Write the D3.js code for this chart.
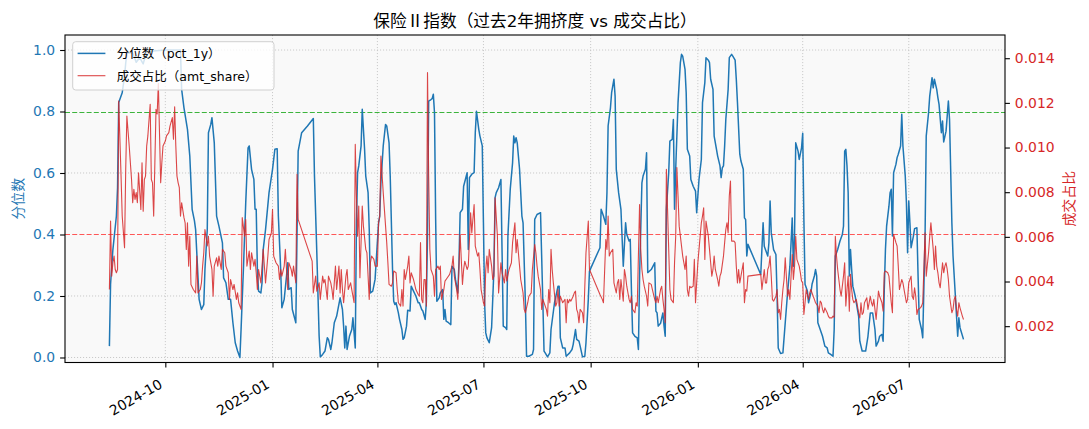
<!DOCTYPE html>
<html><head><meta charset="utf-8">
<script src="https://cdn.jsdelivr.net/npm/d3@7/dist/d3.min.js"></script>
<style>
html,body{margin:0;padding:0;background:#fff;}
svg text{font-family:"DejaVu Sans","Noto Sans CJK SC",sans-serif;}
</style></head><body>
<svg id="chart" width="1089" height="429"></svg>
<script>
const titleText = "保险Ⅱ指数（过去2年拥挤度 vs 成交占比）";
const leftLabel = "分位数";
const rightLabel = "成交占比";
const legendLabels = ["分位数（pct_1y）", "成交占比（amt_share）"];
const baseDate = "2024-08-14";
const xTickLabels = ["2024-10","2025-01","2025-04","2025-07","2025-10","2026-01","2026-04","2026-07"];
const pctTicks = [0, 0.2, 0.4, 0.6, 0.8, 1.0];
const shareTicks = [0.002, 0.004, 0.006, 0.008, 0.010, 0.012, 0.014];
const thresholdHigh = 0.8;
const thresholdLow = 0.4;

// [days since baseDate, pct_1y]
const pctSeries = [[0,0.037],[1,0.238],[3,0.351],[6,0.46],[7,0.552],[8,0.829],[11,0.861],[13,0.915],[14,0.957],[15,0.99],[20,0.99],[23,0.96],[26,0.975],[29,0.955],[32,0.995],[48,1.0],[61,1.0],[62,0.872],[64,0.812],[67,0.742],[69,0.655],[71,0.482],[73,0.444],[74,0.416],[76,0.265],[77,0.189],[79,0.156],[81,0.172],[82,0.286],[84,0.416],[85,0.731],[87,0.758],[88,0.78],[90,0.698],[92,0.46],[94,0.427],[97,0.373],[98,0.259],[100,0.243],[102,0.189],[104,0.189],[106,0.113],[108,0.048],[110,0.021],[112,0.0],[113,0.091],[115,0.286],[117,0.503],[119,0.682],[120,0.688],[122,0.612],[124,0.579],[125,0.482],[126,0.482],[127,0.286],[128,0.216],[130,0.21],[131,0.243],[132,0.351],[134,0.416],[137,0.536],[140,0.612],[142,0.677],[144,0.679],[145,0.46],[147,0.286],[148,0.162],[150,0.189],[152,0.265],[153,0.308],[154,0.221],[156,0.227],[157,0.156],[160,0.113],[161,0.395],[162,0.671],[165,0.731],[170,0.753],[175,0.777],[176,0.59],[178,0.341],[180,0.069],[181,0.002],[183,0.01],[185,0.021],[187,0.064],[188,0.059],[190,0.026],[191,0.048],[193,0.113],[195,0.134],[198,0.194],[200,0.156],[201,0.102],[202,0.031],[203,0.102],[204,0.026],[206,0.069],[208,0.091],[209,0.129],[211,0.031],[212,0.438],[213,0.601],[214,0.623],[216,0.688],[217,0.807],[219,0.677],[220,0.59],[222,0.536],[223,0.416],[224,0.21],[226,0.216],[228,0.254],[231,0.438],[232,0.46],[233,0.568],[235,0.688],[237,0.758],[238,0.753],[240,0.698],[241,0.59],[243,0.286],[244,0.183],[245,0.172],[246,0.178],[248,0.145],[249,0.124],[251,0.091],[252,0.059],[253,0.064],[255,0.102],[256,0.154],[258,0.151],[259,0.232],[261,0.216],[263,0.2],[265,0.178],[266,0.178],[268,0.156],[269,0.151],[271,0.124],[272,0.178],[273,0.395],[274,0.834],[276,0.839],[277,0.842],[278,0.856],[279,0.796],[280,0.449],[281,0.183],[283,0.194],[284,0.21],[286,0.221],[287,0.124],[288,0.156],[289,0.118],[291,0.113],[293,0.107],[294,0.297],[296,0.286],[297,0.254],[299,0.21],[300,0.308],[301,0.471],[303,0.482],[304,0.557],[307,0.601],[308,0.351],[309,0.585],[311,0.596],[313,0.601],[314,0.731],[315,0.801],[317,0.742],[318,0.72],[320,0.688],[321,0.438],[322,0.178],[323,0.08],[324,0.064],[326,0.048],[328,0.097],[330,0.286],[331,0.52],[332,0.536],[334,0.552],[336,0.579],[337,0.341],[338,0.102],[340,0.097],[341,0.091],[342,0.395],[344,0.547],[346,0.633],[347,0.72],[348,0.698],[349,0.715],[350,0.698],[352,0.612],[354,0.46],[355,0.438],[357,0.178],[358,0.004],[360,0.004],[363,0.01],[364,0.026],[365,0.449],[367,0.465],[370,0.471],[372,0.178],[373,0.021],[374,0.015],[376,0.002],[378,0.015],[379,0.091],[382,0.178],[385,0.232],[386,0.232],[387,0.064],[389,0.031],[391,0.031],[392,0.004],[395,0.015],[397,0.026],[398,0.042],[400,0.091],[401,0.059],[403,0.053],[404,0.037],[406,0.002],[408,0.004],[409,0.048],[411,0.189],[412,0.281],[421,0.357],[422,0.482],[424,0.46],[426,0.433],[427,0.536],[428,0.753],[430,0.812],[431,0.861],[433,0.905],[434,0.85],[435,0.612],[437,0.536],[439,0.482],[441,0.297],[443,0.438],[444,0.4],[446,0.379],[447,0.384],[448,0.221],[449,0.08],[451,0.069],[453,0.064],[454,0.026],[455,0.265],[457,0.568],[458,0.59],[460,0.612],[461,0.666],[462,0.276],[465,0.286],[468,0.308],[469,0.151],[470,0.145],[471,0.102],[473,0.111],[475,0.145],[476,0.102],[477,0.069],[478,0.482],[480,0.601],[481,0.704],[483,0.709],[484,0.774],[485,0.482],[486,0.612],[488,0.829],[490,0.959],[491,0.986],[492,0.98],[494,0.937],[495,0.861],[496,0.677],[498,0.655],[499,0.579],[501,0.557],[503,0.541],[504,0.471],[505,0.525],[506,0.579],[508,0.644],[509,0.829],[511,0.894],[512,0.975],[514,0.967],[515,0.959],[516,0.905],[518,0.872],[519,0.72],[521,0.677],[522,0.655],[524,0.623],[525,0.585],[526,0.617],[527,0.623],[528,0.688],[529,0.774],[531,0.872],[532,0.975],[534,0.986],[535,0.98],[537,0.967],[538,0.905],[539,0.829],[541,0.661],[542,0.639],[544,0.612],[545,0.454],[546,0.449],[547,0.33],[548,0.368],[559,0.27],[561,0.438],[562,0.362],[564,0.341],[565,0.33],[566,0.373],[567,0.509],[568,0.406],[570,0.351],[572,0.335],[573,0.2],[574,0.031],[576,0.013],[578,0.015],[580,0.113],[582,0.21],[584,0.297],[585,0.373],[586,0.454],[587,0.297],[588,0.395],[589,0.698],[591,0.671],[592,0.644],[594,0.682],[595,0.729],[596,0.449],[597,0.238],[599,0.216],[600,0.178],[602,0.21],[603,0.238],[605,0.265],[606,0.286],[607,0.265],[608,0.113],[610,0.091],[612,0.069],[614,0.037],[616,0.031],[617,0.015],[619,0.01],[621,0.004],[622,0.091],[623,0.33],[625,0.351],[627,0.379],[629,0.4],[630,0.427],[631,0.671],[632,0.677],[633,0.623],[634,0.536],[635,0.265],[636,0.351],[637,0.286],[638,0.232],[640,0.2],[641,0.178],[642,0.156],[643,0.134],[644,0.053],[646,0.021],[649,0.021],[651,0.069],[653,0.145],[655,0.145],[657,0.091],[658,0.037],[660,0.053],[661,0.069],[663,0.075],[664,0.053],[665,0.221],[666,0.351],[667,0.427],[669,0.492],[670,0.536],[671,0.547],[672,0.395],[673,0.601],[675,0.628],[676,0.65],[677,0.661],[679,0.688],[680,0.791],[681,0.688],[683,0.59],[684,0.503],[685,0.341],[686,0.509],[687,0.438],[688,0.357],[690,0.395],[691,0.419],[693,0.422],[694,0.265],[695,0.124],[697,0.091],[698,0.064],[700,0.395],[701,0.72],[703,0.796],[704,0.85],[706,0.91],[707,0.877],[708,0.905],[710,0.872],[711,0.845],[712,0.823],[714,0.731],[715,0.769],[716,0.701],[718,0.736],[719,0.785],[720,0.834],[721,0.774],[723,0.438],[724,0.33],[726,0.2],[728,0.069],[729,0.129],[730,0.097],[733,0.059]];

// [days since baseDate, amt_share]
const shareSeries = [[0,0.00364],[1,0.00671],[2,0.00424],[3,0.00484],[4,0.00514],[5,0.00454],[6,0.00439],[7,0.00454],[8,0.01208],[10,0.00872],[11,0.00693],[13,0.00551],[14,0.00902],[15,0.01141],[17,0.01007],[19,0.00857],[20,0.00753],[21,0.00813],[22,0.00768],[23,0.00798],[24,0.00753],[25,0.00887],[27,0.00723],[28,0.00932],[29,0.00715],[30,0.00857],[31,0.00872],[32,0.01007],[33,0.01052],[35,0.01194],[36,0.00857],[37,0.00842],[38,0.00693],[39,0.00925],[40,0.01171],[41,0.0115],[42,0.01288],[44,0.00842],[45,0.00932],[46,0.01007],[48,0.01029],[49,0.01052],[51,0.01067],[52,0.01096],[54,0.01134],[55,0.01037],[56,0.01183],[57,0.01007],[58,0.00872],[59,0.00842],[60,0.0082],[61,0.00693],[62,0.00753],[64,0.00686],[65,0.00663],[66,0.00544],[67,0.00663],[68,0.00469],[69,0.00603],[70,0.00387],[72,0.00364],[74,0.00349],[75,0.00514],[76,0.00349],[78,0.00364],[79,0.00394],[80,0.00469],[81,0.00529],[82,0.00633],[84,0.00559],[85,0.00603],[86,0.00514],[88,0.00454],[89,0.00334],[90,0.00469],[92,0.00506],[93,0.00469],[94,0.00514],[96,0.00454],[97,0.00544],[99,0.00529],[100,0.00469],[102,0.00439],[103,0.0032],[104,0.00409],[106,0.00364],[107,0.00387],[109,0.0032],[110,0.00349],[111,0.00305],[113,0.00275],[114,0.00686],[116,0.00603],[117,0.00678],[118,0.00469],[120,0.00536],[121,0.00454],[122,0.00529],[124,0.00469],[125,0.00499],[126,0.00439],[127,0.00364],[128,0.00454],[129,0.00424],[130,0.00394],[132,0.00544],[133,0.00469],[134,0.00394],[135,0.00454],[136,0.00514],[137,0.00588],[139,0.00618],[140,0.00723],[141,0.00514],[143,0.00484],[145,0.00469],[146,0.00409],[147,0.00454],[148,0.00424],[150,0.00469],[151,0.00544],[152,0.00454],[153,0.00364],[154,0.00484],[156,0.00454],[157,0.00424],[158,0.00469],[160,0.00394],[161,0.0088],[162,0.00678],[174,0.00491],[175,0.00349],[177,0.00424],[178,0.00357],[180,0.00394],[181,0.0032],[183,0.00424],[184,0.00394],[185,0.00409],[187,0.0032],[188,0.00424],[190,0.00394],[191,0.00364],[192,0.0032],[194,0.00469],[195,0.00364],[197,0.00469],[198,0.00349],[199,0.00454],[200,0.00364],[201,0.00305],[203,0.00424],[204,0.00454],[205,0.00364],[207,0.00394],[208,0.00364],[210,0.00305],[211,0.01014],[212,0.00783],[213,0.00603],[214,0.00738],[215,0.00417],[217,0.00738],[218,0.00648],[220,0.00544],[221,0.00529],[223,0.0032],[224,0.00484],[225,0.00514],[227,0.00499],[228,0.00469],[230,0.00469],[231,0.00663],[232,0.00693],[233,0.00962],[235,0.00798],[236,0.00723],[238,0.00574],[239,0.00484],[240,0.00387],[242,0.00379],[243,0.00394],[244,0.00447],[246,0.00439],[247,0.00364],[248,0.00305],[250,0.0029],[251,0.00364],[252,0.0029],[253,0.00454],[254,0.00409],[256,0.00469],[257,0.00514],[258,0.00394],[259,0.00439],[261,0.00409],[262,0.00387],[263,0.00364],[265,0.00342],[266,0.00334],[267,0.00574],[268,0.0032],[269,0.00305],[270,0.00409],[271,0.00409],[272,0.0029],[273,0.01336],[274,0.00872],[275,0.00544],[276,0.00454],[278,0.00424],[279,0.00334],[280,0.00454],[282,0.00469],[283,0.00454],[284,0.00469],[285,0.0032],[287,0.00364],[288,0.00402],[290,0.00417],[292,0.00432],[294,0.00469],[295,0.00514],[296,0.00424],[298,0.00364],[299,0.0032],[301,0.0061],[303,0.00387],[304,0.00454],[305,0.00491],[307,0.00454],[308,0.00469],[310,0.00708],[311,0.00618],[313,0.00745],[314,0.00559],[316,0.00514],[317,0.00529],[318,0.00454],[319,0.00364],[321,0.00305],[322,0.0029],[323,0.00454],[324,0.00514],[325,0.00439],[326,0.00544],[328,0.00469],[329,0.00409],[330,0.00424],[331,0.00775],[333,0.00603],[334,0.00349],[336,0.00484],[337,0.00439],[339,0.00394],[340,0.00454],[341,0.00402],[343,0.00454],[345,0.00484],[346,0.00574],[347,0.00618],[348,0.00663],[349,0.00529],[350,0.00588],[352,0.00469],[353,0.00409],[355,0.00349],[356,0.00275],[357,0.0026],[359,0.00305],[360,0.00334],[362,0.00349],[363,0.00454],[365,0.00566],[366,0.00529],[367,0.00469],[368,0.00424],[370,0.00364],[371,0.00275],[372,0.0032],[373,0.00305],[375,0.00275],[376,0.00245],[377,0.00364],[378,0.00305],[379,0.00544],[380,0.00454],[381,0.00394],[383,0.0029],[384,0.00305],[385,0.00364],[386,0.0029],[387,0.00334],[388,0.0032],[389,0.00305],[391,0.0032],[392,0.00215],[393,0.0032],[394,0.00305],[395,0.0032],[396,0.00312],[398,0.00334],[399,0.00349],[400,0.00357],[401,0.00275],[402,0.0026],[403,0.00215],[404,0.00275],[406,0.0026],[407,0.00215],[408,0.00379],[409,0.00529],[411,0.00671],[412,0.00454],[421,0.00342],[423,0.0032],[424,0.00305],[426,0.00588],[427,0.00544],[428,0.00693],[429,0.00514],[430,0.00529],[432,0.00544],[433,0.00394],[435,0.00349],[436,0.00394],[437,0.00409],[438,0.0032],[439,0.00409],[441,0.00312],[442,0.00454],[443,0.00424],[444,0.00379],[446,0.0032],[447,0.00305],[448,0.00334],[449,0.00275],[451,0.0026],[452,0.00305],[453,0.0029],[455,0.00745],[456,0.00544],[457,0.00454],[458,0.00409],[459,0.00379],[461,0.00334],[462,0.0029],[463,0.00394],[465,0.00387],[466,0.00364],[468,0.0032],[469,0.00305],[470,0.00334],[471,0.00305],[473,0.00364],[474,0.00379],[475,0.0032],[476,0.00275],[477,0.00215],[478,0.00902],[479,0.00723],[480,0.00544],[481,0.00364],[482,0.0032],[484,0.00305],[485,0.00484],[486,0.00603],[487,0.0091],[488,0.00783],[489,0.00648],[490,0.00603],[492,0.00514],[493,0.00484],[494,0.00454],[495,0.00514],[496,0.00364],[497,0.00334],[498,0.00379],[499,0.00372],[501,0.00379],[502,0.00499],[503,0.00305],[504,0.00394],[505,0.00484],[506,0.00544],[508,0.00663],[509,0.00693],[510,0.0073],[511,0.00499],[512,0.00671],[514,0.00603],[515,0.00544],[516,0.00484],[517,0.00424],[518,0.00454],[519,0.00514],[520,0.00454],[522,0.00409],[523,0.00379],[524,0.00424],[525,0.00439],[527,0.00514],[528,0.00574],[529,0.00633],[530,0.00663],[531,0.00618],[532,0.00783],[533,0.0085],[534,0.00581],[536,0.00581],[537,0.00574],[538,0.00469],[539,0.00394],[540,0.00454],[541,0.00394],[542,0.00424],[544,0.00484],[545,0.00305],[546,0.00364],[547,0.00357],[548,0.00424],[559,0.00432],[560,0.00364],[561,0.00409],[562,0.00454],[563,0.00394],[564,0.00394],[565,0.00454],[566,0.00469],[567,0.00514],[568,0.00424],[569,0.0032],[570,0.00312],[572,0.00334],[573,0.00364],[574,0.0026],[575,0.00275],[576,0.0023],[577,0.00305],[578,0.00364],[579,0.00409],[580,0.00506],[582,0.00334],[583,0.00364],[584,0.0032],[585,0.00424],[586,0.00521],[587,0.00409],[588,0.00469],[589,0.00603],[590,0.00499],[592,0.00469],[593,0.00439],[594,0.00402],[595,0.00394],[596,0.00252],[597,0.00305],[598,0.00364],[600,0.0032],[601,0.00349],[602,0.00364],[603,0.00349],[604,0.00334],[605,0.0032],[606,0.00305],[608,0.0029],[609,0.0026],[610,0.00312],[611,0.00305],[612,0.00275],[613,0.0026],[614,0.00282],[616,0.0026],[617,0.00245],[618,0.00237],[620,0.00237],[621,0.00245],[622,0.0024],[623,0.00603],[624,0.00514],[625,0.00454],[626,0.00409],[627,0.00364],[628,0.00334],[630,0.00424],[631,0.00484],[632,0.0029],[633,0.00364],[634,0.00424],[635,0.00267],[636,0.00432],[637,0.00364],[638,0.0032],[639,0.00305],[641,0.0032],[642,0.0029],[643,0.0026],[644,0.00237],[645,0.00305],[646,0.00252],[647,0.0026],[648,0.00305],[650,0.00327],[651,0.00275],[653,0.00334],[654,0.00305],[655,0.0029],[656,0.0032],[657,0.00275],[658,0.0023],[660,0.00357],[661,0.00334],[663,0.00305],[664,0.00267],[665,0.00439],[666,0.00447],[668,0.00439],[669,0.00424],[670,0.00364],[671,0.00305],[672,0.0026],[673,0.00611],[675,0.00574],[676,0.00559],[677,0.00469],[678,0.00364],[680,0.00409],[681,0.00394],[682,0.00364],[683,0.00334],[684,0.00305],[685,0.0032],[686,0.00394],[688,0.00424],[689,0.00334],[690,0.0032],[691,0.00372],[692,0.00334],[693,0.00252],[694,0.00275],[696,0.00282],[697,0.0029],[698,0.00305],[700,0.00618],[701,0.00424],[703,0.00529],[704,0.00603],[705,0.00663],[707,0.00544],[708,0.00454],[709,0.00559],[710,0.00469],[711,0.00439],[712,0.00394],[713,0.00372],[715,0.00484],[716,0.00439],[717,0.00469],[718,0.00484],[719,0.00454],[720,0.00409],[721,0.00334],[723,0.0026],[724,0.00275],[725,0.0032],[726,0.00334],[727,0.00275],[728,0.00245],[729,0.00305],[730,0.00282],[732,0.00245],[733,0.0023]];

const W = 1089, H = 429;
const m = {left: 65, right: 1005, top: 35, bottom: 362.5};
const BLUE = "#1f77b4", RED = "#d62728";
const FS = 13.9;

const base = d3.timeParse("%Y-%m-%d")(baseDate);
const dayToDate = d => new Date(base.getTime() + d * 864e5);

const x = d3.scaleTime().domain([dayToDate(-38.1), dayToDate(768.6)]).range([m.left, m.right]);
const yL = d3.scaleLinear().domain([-0.0163, 1.0488]).range([m.bottom, m.top]);
const yR = d3.scaleLinear().domain([0.000373, 0.01504]).range([m.bottom, m.top]);

const svg = d3.select("#chart");
svg.append("rect").attr("width", W).attr("height", H).attr("fill", "#fff");
svg.append("rect").attr("x", m.left).attr("y", m.top)
  .attr("width", m.right - m.left).attr("height", m.bottom - m.top).attr("fill", "#f9f9f9");

const tickDates = xTickLabels.map(s => d3.timeParse("%Y-%m")(s));

// grid
const grid = svg.append("g");
grid.selectAll("line.gx").data(tickDates).join("line").attr("class", "gx")
  .attr("x1", d => x(d)).attr("x2", d => x(d)).attr("y1", m.top).attr("y2", m.bottom);
grid.selectAll("line.gy").data(pctTicks.filter(v => v !== thresholdHigh && v !== thresholdLow)).join("line").attr("class", "gy")
  .attr("x1", m.left).attr("x2", m.right).attr("y1", d => yL(d)).attr("y2", d => yL(d));
grid.selectAll("line").attr("stroke", "#c4c4c4").attr("stroke-width", 0.9).attr("stroke-dasharray", "1.1,1.9");

// threshold lines
const snap = v => Math.round(v) + 0.5;
svg.append("line").attr("x1", m.left).attr("x2", m.right)
  .attr("y1", snap(yL(thresholdHigh))).attr("y2", snap(yL(thresholdHigh)))
  .attr("stroke", "#3cb43c").attr("stroke-width", 1.1).attr("stroke-dasharray", "5,2.2");
svg.append("line").attr("x1", m.left).attr("x2", m.right)
  .attr("y1", snap(yL(thresholdLow))).attr("y2", snap(yL(thresholdLow)))
  .attr("stroke", "#ff3b3b").attr("stroke-opacity", 0.85).attr("stroke-width", 1.1).attr("stroke-dasharray", "5,2.2");

// series
const linePct = d3.line().x(d => x(dayToDate(d[0]))).y(d => yL(d[1]));
const lineShare = d3.line().x(d => x(dayToDate(d[0]))).y(d => yR(d[1]));
svg.append("path").datum(pctSeries).attr("d", linePct)
  .attr("fill", "none").attr("stroke", BLUE).attr("stroke-width", 1.5).attr("stroke-linejoin", "round");
svg.append("path").datum(shareSeries).attr("d", lineShare)
  .attr("fill", "none").attr("stroke", RED).attr("stroke-opacity", 0.85).attr("stroke-width", 1.1).attr("stroke-linejoin", "round");

// frame
svg.append("rect").attr("x", m.left).attr("y", m.top)
  .attr("width", m.right - m.left).attr("height", m.bottom - m.top)
  .attr("fill", "none").attr("stroke", "#000").attr("stroke-width", 1.1);

// axes
const gx = svg.append("g").attr("transform", `translate(0,${m.bottom})`)
  .call(d3.axisBottom(x).tickValues(tickDates).tickFormat((d, i) => xTickLabels[i]).tickSize(4.9).tickSizeOuter(0));
gx.select(".domain").remove();
gx.selectAll(".tick line").attr("stroke", "#000").attr("stroke-width", 1.1);
gx.selectAll(".tick text").attr("x", 0).attr("y", 0).attr("dy", 0)
  .attr("text-anchor", "end").attr("transform", "translate(-2.5,24.5) rotate(-30)")
  .attr("font-size", FS).attr("fill", "#000");

const gl = svg.append("g").attr("transform", `translate(${m.left},0)`)
  .call(d3.axisLeft(yL).tickValues(pctTicks).tickFormat(d3.format(".1f")).tickSize(4.9).tickPadding(4.9).tickSizeOuter(0));
gl.select(".domain").remove();
gl.selectAll(".tick line").attr("stroke", "#000").attr("stroke-width", 1.1);
gl.selectAll(".tick text").attr("font-size", FS).attr("fill", BLUE);

const gr = svg.append("g").attr("transform", `translate(${m.right},0)`)
  .call(d3.axisRight(yR).tickValues(shareTicks).tickFormat(d3.format(".3f")).tickSize(4.9).tickPadding(4.9).tickSizeOuter(0));
gr.select(".domain").remove();
gr.selectAll(".tick line").attr("stroke", "#000").attr("stroke-width", 1.1);
gr.selectAll(".tick text").attr("font-size", FS).attr("fill", RED);

// title (roman numerals taken from the CJK font, as in the reference) & axis labels
const title = svg.append("text").attr("x", (m.left + m.right) / 2).attr("y", 26.7)
  .attr("text-anchor", "middle").attr("font-size", 16.7).attr("fill", "#000");
titleText.split(/([\u2160-\u217F]+)/).filter(s => s.length).forEach(part => {
  const ts = title.append("tspan").text(part);
  if (/[\u2160-\u217F]/.test(part)) ts.style("font-family", '"Noto Sans CJK SC", sans-serif');
});
svg.append("text").attr("transform", `translate(18,${(m.top + m.bottom) / 2}) rotate(-90)`)
  .attr("dy", "0.35em").attr("text-anchor", "middle").attr("font-size", FS).attr("fill", BLUE).text(leftLabel);
svg.append("text").attr("transform", `translate(1069,${(m.top + m.bottom) / 2}) rotate(-90)`)
  .attr("dy", "0.35em").attr("text-anchor", "middle").attr("font-size", FS).attr("fill", RED).text(rightLabel);

// legend
const LFS = 12.5;
const lg = svg.append("g");
const box = lg.append("rect").attr("x", 72.7).attr("y", 41.7).attr("height", 48.3).attr("rx", 3)
  .attr("fill", "#fff").attr("fill-opacity", 0.8).attr("stroke", "#d0d0d0").attr("stroke-width", 1);
const rows = [{c: BLUE, w: 1.5, o: 1, ly: 53.4, ty: 58.3}, {c: RED, w: 1.1, o: 0.85, ly: 75.7, ty: 80.6}];
let maxLen = 0;
rows.forEach((r, i) => {
  lg.append("line").attr("x1", 77.6).attr("x2", 105.4).attr("y1", r.ly).attr("y2", r.ly)
    .attr("stroke", r.c).attr("stroke-width", r.w).attr("stroke-opacity", r.o);
  const t = lg.append("text").attr("x", 116.8).attr("y", r.ty).attr("font-size", LFS).attr("fill", "#000").text(legendLabels[i]);
  maxLen = Math.max(maxLen, t.node().getComputedTextLength());
});
box.attr("width", Math.max(274 - 72.7, 116.8 + maxLen + 7 - 72.7));
</script>
</body></html>
